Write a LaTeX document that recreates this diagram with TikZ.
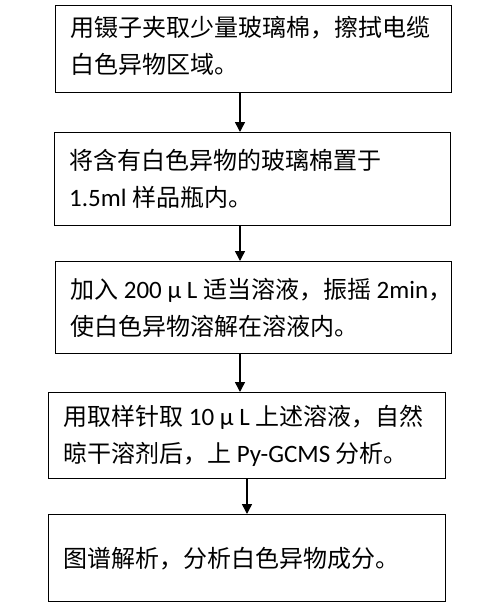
\documentclass[tikz,border=0pt]{standalone}
\usepackage{fontspec}
\setmainfont{Carlito}
\newfontfamily\cjk{Noto Sans CJK SC}
\usetikzlibrary{arrows.meta}
\newcommand{\C}[1]{{\cjk\fontsize{24}{37}\selectfont #1}}
\begin{document}
\begin{tikzpicture}[x=1pt,y=-1pt,
  box/.style={draw, line width=1.4pt, anchor=north west, inner sep=0pt},
  txt/.style={anchor=west, align=left, inner sep=0pt,
    font=\fontsize{25}{37}\selectfont},
  arr/.style={line width=1.5pt, -{Triangle[length=10pt,width=10pt]}}]
\path[use as bounding box] (0,0) rectangle (500,606);
\node[box, minimum width=396pt, minimum height=87pt] (b1) at (55,5) {};
\node[box, minimum width=396pt, minimum height=93pt] (b2) at (54,132) {};
\node[box, minimum width=396pt, minimum height=92pt] (b3) at (55,261) {};
\node[box, minimum width=397pt, minimum height=86pt] (b4) at (48,392) {};
\node[box, minimum width=397pt, minimum height=87pt] (b5) at (48,514) {};
\node[txt] (t1) at ([xshift=15pt,yshift=3pt]b1.west)
  {\C{用镊子夹取少量玻璃棉，擦拭电缆}\\\C{白色异物区域。}};
\node[txt] (t2) at ([xshift=15pt]b2.west)
  {\C{将含有白色异物的玻璃棉置于}\\1.5ml \C{样品瓶内。}};
\node[txt] (t3) at ([xshift=15pt]b3.west)
  {\C{加入} 200 μ L \C{适当溶液，振摇} 2min\C{，}\\\C{使白色异物溶解在溶液内。}};
\node[txt] (t4) at ([xshift=15pt]b4.west)
  {\C{用取样针取} 10 μ L \C{上述溶液，自然}\\\C{晾干溶剂后，上} Py-GCMS \C{分析。}};
\node[txt] (t5) at ([xshift=15pt]b5.west)
  {\C{图谱解析，分析白色异物成分。}};
\coordinate (xa) at (240,0);
\coordinate (xb) at (247,0);
\draw[arr] (b1.south -| xa) -- (b2.north -| xa);
\draw[arr] (b2.south -| xa) -- (b3.north -| xa);
\draw[arr] (b3.south -| xa) -- (b4.north -| xa);
\draw[arr] (b4.south -| xb) -- (b5.north -| xb);
\end{tikzpicture}
\end{document}
